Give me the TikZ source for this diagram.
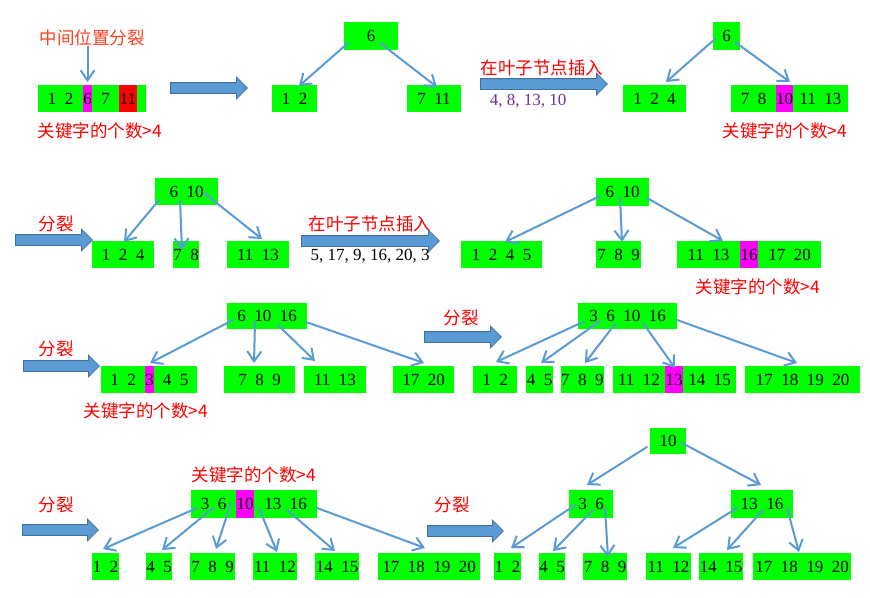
\documentclass[tikz,border=0pt]{standalone}
\usepackage{fontspec}
\setmainfont{Liberation Serif}
\newfontfamily\cjk{Noto Sans CJK SC}
\usetikzlibrary{positioning,arrows.meta,shapes.arrows}
\definecolor{kgreen}{HTML}{00FF00}
\definecolor{kmag}{HTML}{FF00FF}
\definecolor{kred}{HTML}{FF0000}
\definecolor{kor}{HTML}{FF4020}
\definecolor{lblue}{HTML}{5B9BD5}
\definecolor{bdark}{HTML}{41719C}
\definecolor{kpurple}{HTML}{7030A0}
\tikzset{
  gbox/.style={fill=kgreen, inner sep=0pt, outer sep=0pt, minimum height=27, anchor=north west, font=\fontsize{17}{20}\selectfont},
  mbox/.style={gbox, fill=kmag},
  rbox/.style={gbox, fill=kred},
  note/.style={inner sep=0pt, text=kred, font=\cjk\fontsize{17.5}{20}\selectfont},
  keys/.style={inner sep=0pt, font=\fontsize{17}{20}\selectfont},
  link/.style={draw=lblue, line width=2pt, line cap=round, -{Straight Barb[length=10pt,width=14pt]}},
  bigarrow/.style={single arrow, draw=bdark, fill=lblue, line width=0.8pt, inner sep=0pt, inner ysep=5pt, single arrow head extend=5.5pt, minimum height=#1, anchor=tail}
}
\begin{document}
\begin{tikzpicture}[x=1pt, y=-1pt]
\path[use as bounding box, fill=white] (0,0) rectangle (870,597);

% Row 1: the full leaf and its first split
\node[note, text=kor] (mid) at (92,38) {中间位置分裂};
\node[gbox, minimum width=45] (a1) at (38,85) {1~~2};
\node[mbox, minimum width=9, right=0pt of a1] (a2) {6};
\node[gbox, minimum width=27, right=0pt of a2] (a3) {7};
\node[rbox, minimum width=18, right=0pt of a3] (a4) {11};
\node[gbox, minimum width=9, right=0pt of a4] (a5) {};
\node[note] (full1) at (100,131) {关键字的个数>4};
\draw[link, shorten >=3pt] (mid.south -| a2) -- (a2.north);
\node[bigarrow=77] (ba1) at (170,88) {};

\node[gbox, minimum width=54, minimum height=28] (r1) at (344,22) {6};
\node[gbox, minimum width=45] (r1l) at (272,85) {1~~2};
\node[gbox, minimum width=54] (r1r) at (407,85) {7~~11};
\draw[link] ([shift={(4,21)}]r1.north west) -- ([shift={(27,1)}]r1l.north west);
\draw[link] ([shift={(36,21)}]r1.north west) -- ([shift={(30,2)}]r1r.north west);

\node[note] (ins1) at (542,68) {在叶子节点插入};
\node[bigarrow=127] (ba2) at (480,84) {};
\node[keys, text=kpurple] (keys1) at (528,101) {4, 8, 13, 10};

\node[gbox, minimum width=27, minimum height=28] (r2) at (713,22) {6};
\node[gbox, minimum width=63] (r2l) at (623,85) {1~~2~~4};
\node[gbox, minimum width=45] (r2ra) at (731,85) {7~~8};
\node[mbox, minimum width=17, right=0pt of r2ra] (r2rb) {10};
\node[gbox, minimum width=55, right=0pt of r2rb] (r2rc) {11~~13};
\node[note] (full2) at (785,131) {关键字的个数>4};
\draw[link] ([shift={(2,17)}]r2.north west) -- ([shift={(43,-3)}]r2l.north west);
\draw[link] ([shift={(22,20)}]r2.north west) -- ([shift={(14,-3)}]r2rb.north west);

% Row 2
\node[note] (split1) at (56,224) {分裂};
\node[bigarrow=77] (ba3) at (15,240) {};
\node[gbox, minimum width=63] (r3) at (155,178) {6~~10};
\node[gbox, minimum width=62] (r3a) at (92,241) {1~~2~~4};
\node[gbox, minimum width=26] (r3b) at (173,241) {7~~8};
\node[gbox, minimum width=62] (r3c) at (227,241) {11~~13};
\draw[link] ([shift={(4,22)}]r3.north west) -- ([shift={(32,1)}]r3a.north west);
\draw[link] ([shift={(25,22)}]r3.north west) -- ([shift={(9,9)}]r3b.north west);
\draw[link] ([shift={(49,15)}]r3.north west) -- ([shift={(35,-2)}]r3c.north west);

\node[note] (ins2) at (370,224) {在叶子节点插入};
\node[bigarrow=138] (ba4) at (301,241) {};
\node[keys] (keys2) at (370,256) {5, 17, 9, 16, 20, 3};

\node[gbox, minimum width=53, minimum height=28] (r4) at (596,178) {6~~10};
\node[gbox, minimum width=81] (r4a) at (461,241) {1~~2~~4~~5};
\node[gbox, minimum width=45] (r4b) at (596,241) {7~~8~~9};
\node[gbox, minimum width=63] (r4ca) at (677,241) {11~~13};
\node[mbox, minimum width=18, right=0pt of r4ca] (r4cb) {16};
\node[gbox, minimum width=63, right=0pt of r4cb] (r4cc) {17~~20};
\node[note] (full3) at (758,287) {关键字的个数>4};
\draw[link] ([shift={(4,18)}]r4.north west) -- ([shift={(44,1)}]r4a.north west);
\draw[link] ([shift={(24,19)}]r4.north west) -- ([shift={(26,1)}]r4b.north west);
\draw[link] ([shift={(51,20)}]r4.north west) -- ([shift={(46,0)}]r4ca.north west);

% Row 3
\node[note] (split2) at (56,349) {分裂};
\node[bigarrow=76] (ba5) at (23,366) {};
\node[gbox, minimum width=80, minimum height=26] (r5) at (227,303) {6~~10~~16};
\node[gbox, minimum width=44] (r5aa) at (101,366) {1~~2};
\node[mbox, minimum width=9, right=0pt of r5aa] (r5ab) {3};
\node[gbox, minimum width=43, right=0pt of r5ab] (r5ac) {4~~5};
\node[gbox, minimum width=71] (r5b) at (224,366) {7~~8~~9};
\node[gbox, minimum width=62] (r5c) at (304,366) {11~~13};
\node[gbox, minimum width=61] (r5d) at (393,366) {17~~20};
\node[note] (full4) at (146,411) {关键字的个数>4};
\draw[link] ([shift={(6,17)}]r5.north west) -- ([shift={(5,-3)}]r5ab.north west);
\draw[link] ([shift={(28,19)}]r5.north west) -- ([shift={(30,-3)}]r5b.north west);
\draw[link] ([shift={(51,22)}]r5.north west) -- ([shift={(11,-5)}]r5c.north west);
\draw[link] ([shift={(79,19)}]r5.north west) -- ([shift={(31,-3)}]r5d.north west);

\node[note] (split3) at (461,318) {分裂};
\node[bigarrow=77] (ba6) at (424,337) {};
\node[gbox, minimum width=99, minimum height=26] (r6) at (578,303) {3~~6~~10~~16};
\node[gbox, minimum width=44] (r6a) at (473,366) {1~~2};
\node[gbox, minimum width=27] (r6b) at (526,366) {4~~5};
\node[gbox, minimum width=42] (r6c) at (561,366) {7~~8~~9};
\node[gbox, minimum width=52] (r6da) at (613,366) {11~~12};
\node[mbox, minimum width=18, right=0pt of r6da] (r6db) {13};
\node[gbox, minimum width=53, right=0pt of r6db] (r6dc) {14~~15};
\node[gbox, minimum width=115] (r6e) at (745,366) {17~~18~~19~~20};
\draw[link] ([shift={(5,19)}]r6.north west) -- ([shift={(23,-4)}]r6a.north west);
\draw[link] ([shift={(22,18)}]r6.north west) -- ([shift={(15,-3)}]r6b.north west);
\draw[link] ([shift={(37,21)}]r6.north west) -- ([shift={(24,-3)}]r6c.north west);
\draw[link] ([shift={(65,20)}]r6.north west) -- ([shift={(10,2)}]r6db.north west);
\draw[link] ([shift={(99,17)}]r6.north west) -- ([shift={(52,-3)}]r6e.north west);

% Row 4
\node[note] (full5) at (254,475) {关键字的个数>4};
\node[gbox, minimum width=45, minimum height=28] (r7a) at (191,490) {3~~6};
\node[mbox, minimum width=18, minimum height=28, right=0pt of r7a] (r7b) {10};
\node[gbox, minimum width=63, minimum height=28, right=0pt of r7b] (r7c) {13~~16};
\node[note] (split4) at (56,505) {分裂};
\node[bigarrow=76] (ba7) at (22,530) {};
\node[gbox, minimum width=27] (r7l1) at (92,553) {1~~2};
\node[gbox, minimum width=26] (r7l2) at (146,553) {4~~5};
\node[gbox, minimum width=45] (r7l3) at (190,553) {7~~8~~9};
\node[gbox, minimum width=44] (r7l4) at (253,553) {11~~12};
\node[gbox, minimum width=44] (r7l5) at (315,553) {14~~15};
\node[gbox, minimum width=102] (r7l6) at (378,553) {17~~18~~19~~20};
\draw[link] ([shift={(6,18)}]r7a.north west) -- ([shift={(11,-4)}]r7l1.north west);
\draw[link] ([shift={(22,18)}]r7a.north west) -- ([shift={(16,-3)}]r7l2.north west);
\draw[link] ([shift={(40,13)}]r7a.north west) -- ([shift={(26,-4)}]r7l3.north west);
\draw[link] ([shift={(5,18)}]r7c.north west) -- ([shift={(24,-1)}]r7l4.north west);
\draw[link] ([shift={(33,20)}]r7c.north west) -- ([shift={(20,-2)}]r7l5.north west);
\draw[link] ([shift={(63,18)}]r7c.north west) -- ([shift={(47,-5)}]r7l6.north west);

\node[note] (split5) at (452,505) {分裂};
\node[bigarrow=76] (ba8) at (427,531) {};
\node[gbox, minimum width=36, minimum height=26] (r8) at (650,428) {10};
\node[gbox, minimum width=44, minimum height=28] (r8l) at (569,490) {3~~6};
\node[gbox, minimum width=62, minimum height=28] (r8r) at (731,490) {13~~16};
\node[gbox, minimum width=27] (r8a) at (494,553) {1~~2};
\node[gbox, minimum width=26] (r8b) at (539,553) {4~~5};
\node[gbox, minimum width=44] (r8c) at (583,553) {7~~8~~9};
\node[gbox, minimum width=45] (r8d) at (646,553) {11~~12};
\node[gbox, minimum width=44] (r8e) at (699,553) {14~~15};
\node[gbox, minimum width=98] (r8f) at (753,553) {17~~18~~19~~20};
\draw[link] ([shift={(-3,19)}]r8.north west) -- ([shift={(18,-5)}]r8l.north west);
\draw[link] ([shift={(32,15)}]r8.north west) -- ([shift={(30,-5)}]r8r.north west);
\draw[link] ([shift={(6,15)}]r8l.north west) -- ([shift={(17,-5)}]r8a.north west);
\draw[link] ([shift={(24,20)}]r8l.north west) -- ([shift={(14,-2)}]r8b.north west);
\draw[link] ([shift={(36,18)}]r8l.north west) -- ([shift={(25,4)}]r8c.north west);
\draw[link] ([shift={(6,18)}]r8r.north west) -- ([shift={(27,-5)}]r8d.north west);
\draw[link] ([shift={(32,20)}]r8r.north west) -- ([shift={(28,-3)}]r8e.north west);
\draw[link] ([shift={(56,18)}]r8r.north west) -- ([shift={(46,-1)}]r8f.north west);
\end{tikzpicture}
\end{document}
